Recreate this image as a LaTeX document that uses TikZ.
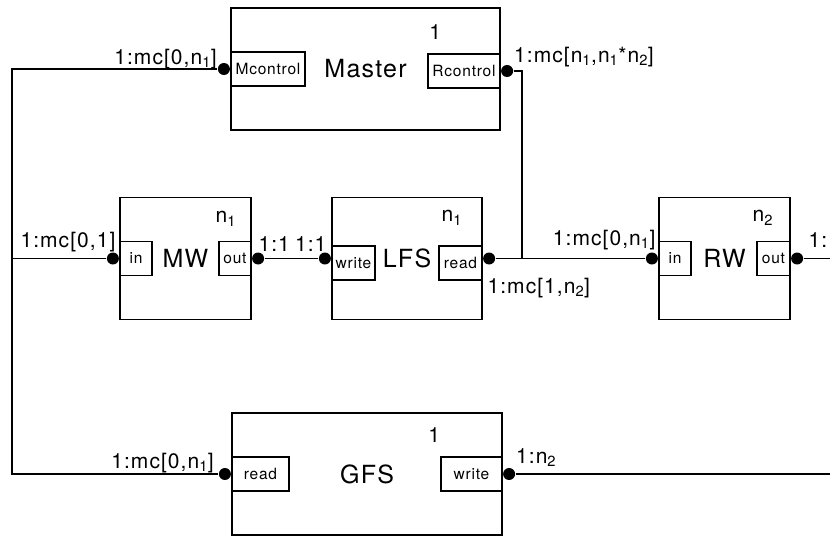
\documentclass[tikz,border=0pt]{standalone}
\usepackage{fontspec}
\setmainfont{TeX Gyre Heros}[LetterSpace=5]
\newcommand{\ix}[1]{\textsubscript{#1}}

\begin{document}
\begin{tikzpicture}[x=1pt, y=-1pt, line width=1.1pt,
    box/.style={draw, minimum height=122pt, inner sep=0pt, font=\fontsize{25}{29}\selectfont},
    port/.style={draw, minimum height=34pt, inner sep=0pt, font=\fontsize{15.5}{18}\selectfont},
    dot/.style={circle, fill, inner sep=0pt, minimum size=12pt},
    lbl/.style={inner sep=0pt, font=\fontsize{21}{25}\selectfont},
    mult/.style={inner sep=0pt, anchor=base east, font=\fontsize{21}{25}\selectfont}]
  \useasboundingbox (0,0) rectangle (830,536);

  % blocks
  \node[box, minimum width=269pt] (master) at (365.5,69) {Master};
  \node[box, minimum width=131pt] (mw) at (185.5,258.5) {MW};
  \node[box, minimum width=150pt] (lfs) at (407,258.5) {LFS};
  \node[box, minimum width=131pt] (rw) at (724.5,258.5) {RW};
  \node[box, minimum width=270pt] (gfs) at (367,474) {GFS};

  % ports
  \node[port, minimum width=74pt, anchor=west] (mctl) at (master.west) {Mcontrol};
  \node[port, minimum width=72pt, anchor=east] (rctl) at ([yshift=-2pt]master.east) {Rcontrol};
  \node[port, minimum width=32pt, anchor=west] (mwin) at (mw.west) {in};
  \node[port, minimum width=32pt, anchor=east] (mwout) at (mw.east) {out};
  \node[port, minimum width=43pt, anchor=west] (lfsw) at ([yshift=-4.5pt]lfs.west) {write};
  \node[port, minimum width=43pt, anchor=east] (lfsr) at ([yshift=-4.5pt]lfs.east) {read};
  \node[port, minimum width=32pt, anchor=west] (rwin) at (rw.west) {in};
  \node[port, minimum width=33pt, anchor=east] (rwout) at (rw.east) {out};
  \node[port, minimum width=57pt, anchor=west] (gfsr) at (gfs.west) {read};
  \node[port, minimum width=61pt, anchor=east] (gfsw) at (gfs.east) {write};

  % multiplicities
  \node[mult] (nmaster) at ([xshift=-59pt,yshift=-32pt]master.north east) {1};
  \node[mult] (nmw) at ([xshift=-15pt,yshift=-26pt]mw.north east) {n\ix{1}};
  \node[mult] (nlfs) at ([xshift=-20pt,yshift=-25pt]lfs.north east) {n\ix{1}};
  \node[mult] (nrw) at ([xshift=-17pt,yshift=-25pt]rw.north east) {n\ix{2}};
  \node[mult] (ngfs) at ([xshift=-62pt,yshift=-30pt]gfs.north east) {1};

  % dots
  \node[dot, anchor=east] (dmctl) at (mctl.west) {};
  \node[dot, anchor=west] (drctl) at (rctl.east) {};
  \node[dot, anchor=east] (dmwin) at (mwin.west) {};
  \node[dot, anchor=west] (dmwout) at (mwout.east) {};
  \node[dot, anchor=east] (dlfsw) at ([yshift=4.5pt]lfsw.west) {};
  \node[dot, anchor=west] (dlfsr) at ([yshift=4.5pt]lfsr.east) {};
  \node[dot, anchor=east] (drwin) at (rwin.west) {};
  \node[dot, anchor=west] (drwout) at (rwout.east) {};
  \node[dot, anchor=east] (dgfsr) at (gfsr.west) {};
  \node[dot, anchor=west] (dgfsw) at (gfsw.east) {};

  % connectors
  \coordinate (rail) at (12,0);
  \coordinate (join) at (522,0);
  \coordinate (edge) at (830,0);
  \draw (dmctl) -- (dmctl -| rail) -- (dgfsr -| rail) -- (dgfsr);
  \draw (dmwin) -- (dmwin -| rail);
  \draw (dmwout) -- (dlfsw);
  \draw (dlfsr) -- (drwin);
  \draw (drctl) -| (dlfsr -| join);
  \draw (drwout) -- (drwout -| edge);
  \draw (dgfsw) -- (dgfsw -| edge);

  % connector labels
  \node[lbl, anchor=base east] (lmctl) at ([yshift=5pt]dmctl.west) {1:mc[0,n\ix{1}]};
  \node[lbl, anchor=base west] (lrctl) at ([yshift=9pt]drctl.east) {1:mc[n\ix{1},n\ix{1}*n\ix{2}]};
  \node[lbl, anchor=base east] (lmwin) at ([xshift=3pt,yshift=11pt]dmwin.center) {1:mc[0,1]};
  \node[lbl, anchor=base west] (lmwout) at ([yshift=7pt]dmwout.center) {1:1};
  \node[lbl, anchor=base east] (llfsw) at ([xshift=2pt,yshift=7pt]dlfsw.center) {1:1};
  \node[lbl, anchor=base west] (llfsr) at ([xshift=-2pt,yshift=-34.5pt]dlfsr.center) {1:mc[1,n\ix{2}]};
  \node[lbl, anchor=base east] (lrwin) at ([xshift=4pt,yshift=13pt]drwin.center) {1:mc[0,n\ix{1}]};
  \node[lbl, anchor=base west] (lrwout) at ([xshift=11pt,yshift=11pt]drwout.center) {1:1};
  \node[lbl, anchor=base east] (lgfsr) at ([xshift=-4pt,yshift=6pt]dgfsr.west) {1:mc[0,n\ix{1}]};
  \node[lbl, anchor=base west] (lgfsw) at ([yshift=11pt]dgfsw.east) {1:n\ix{2}};
\end{tikzpicture}
\end{document}
